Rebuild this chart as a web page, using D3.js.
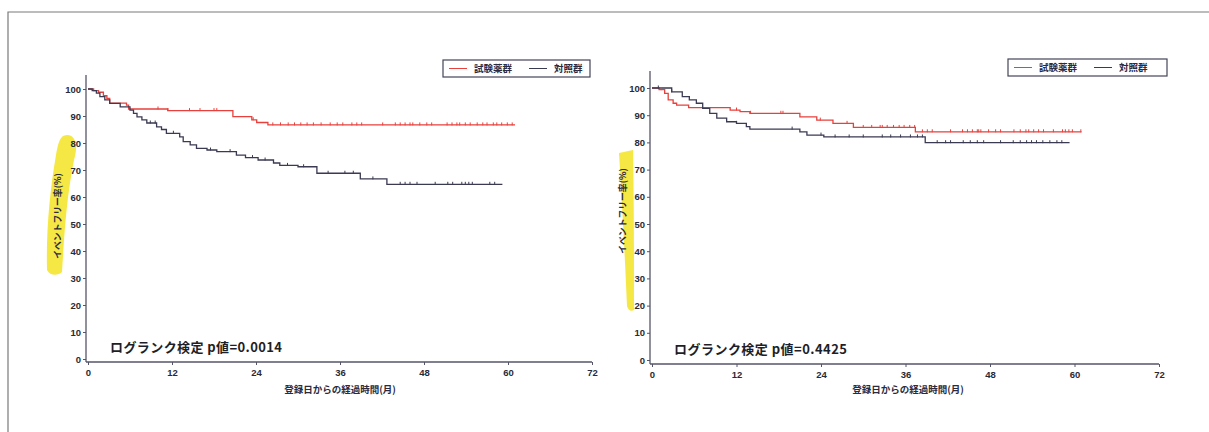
<!DOCTYPE html>
<html><head><meta charset="utf-8">
<script src="https://cdn.jsdelivr.net/npm/d3@7/dist/d3.min.js"></script>
<style>
html,body{margin:0;padding:0;background:#fff;}
svg{display:block;}
text{font-family:"Noto Sans CJK JP","Liberation Sans",sans-serif;}
</style></head>
<body>
<svg id="chart" width="1209" height="432"></svg>
<script>
// ---- data ----
const xTicks = [0, 12, 24, 36, 48, 60, 72];
const yTicks = [0, 10, 20, 30, 40, 50, 60, 70, 80, 90, 100];
const seriesNames = ["試験薬群", "対照群"];
const xTitle = "登録日からの経過時間(月)";
const yTitle = "イベントフリー率(%)";
const pValues = ["0.0014", "0.4425"];

// Left panel: [month, %] step change points (last = end of follow-up)
const leftDrug = [[0,100],[0.8,99.4],[1.5,98.8],[2.2,97.5],[2.7,96.5],[3.1,94.8],[5.5,94.0],[5.8,92.6],[11.4,92.0],[20.7,89.8],[23.4,88.6],[24.1,87.6],[25.7,86.7],[61,86.7]];
const leftCtrl = [[0,100],[0.6,99.4],[1.2,98.5],[1.7,97.2],[2.4,96.0],[3.1,94.7],[4.6,93.4],[6.0,92.2],[6.5,91.0],[7.0,89.7],[7.7,88.6],[8.4,87.4],[9.8,86.0],[10.5,85.0],[11.2,83.6],[13.1,82.3],[13.6,80.5],[14.6,79.3],[15.5,78.0],[17.0,77.4],[18.4,76.8],[21.2,75.5],[22.5,74.6],[24.3,73.7],[26.5,72.6],[27.4,71.7],[30.0,71.2],[32.7,68.8],[38.9,66.7],[42.7,64.7],[59.2,64.7]];
const leftDrugCensor = [10.0,11.4,14.5,16.0,18.0,18.4,23.6,26.4,27.5,28.6,29.5,30.4,31.3,32.2,33.3,34.6,35.6,36.4,37.7,38.4,39.1,42.1,43.9,44.6,45.3,46.0,46.4,47.4,48.4,49.1,51.3,52.0,52.7,53.1,53.9,54.6,55.6,56.4,57.0,57.9,58.4,59.1,59.9,60.6];
const leftCtrlCensor = [8.9,9.6,12.2,17.5,20.3,23.5,25.3,28.5,30.8,34.3,36.7,37.9,40.7,44.6,45.3,46.0,47.0,49.6,51.4,52.1,53.4,53.9,54.4,54.9,57.4,58.1];

// Right panel
const rightDrug = [[0,100],[1.0,99.4],[1.8,98.0],[2.3,95.6],[3.0,94.4],[3.5,93.7],[5.2,92.8],[11.1,91.9],[12.5,91.3],[13.9,90.7],[21.0,89.4],[23.4,88.2],[25.7,87.0],[28.6,85.5],[37.4,83.9],[61,83.9]];
const rightCtrl = [[0,100],[2.8,98.6],[4.3,96.8],[5.3,95.6],[6.3,94.4],[7.2,92.5],[8.2,90.7],[9.2,88.9],[10.6,87.6],[12.0,87.0],[13.4,85.8],[13.9,84.9],[21.0,83.9],[22.0,82.7],[24.4,82.0],[38.8,79.9],[59.3,79.9]];
const rightDrugCensor = [1.3,12.0,14.0,18.3,18.6,23.9,27.7,30.0,31.2,32.4,32.7,33.4,34.3,35.1,35.8,36.6,37.3,38.4,39.1,39.8,42.4,44.1,44.8,45.5,46.2,46.4,46.7,47.8,48.8,49.5,51.4,52.3,53.1,53.5,54.2,54.9,55.6,57.0,58.3,58.7,59.2,59.7,60.9];
const rightCtrlCensor = [0.9,2.8,12.0,19.9,24.0,26.0,28.0,30.0,32.7,33.9,35.3,36.7,37.7,38.4,40.5,41.7,42.4,44.2,45.2,46.2,47.1,49.5,51.3,52.3,53.2,53.9,54.6,55.5,56.5,57.5,58.2];

// ---- layout ----
const colors = ["#e8403c", "#3a3a52"];
const axisColor = "#55556a";
const panels = [
  { x0: 88, x1: 592, yTop: 89, yBot: 359, axX: 86, axY: 362, axTop: 75,
    series: [leftDrug, leftCtrl], censors: [leftDrugCensor, leftCtrlCensor], p: pValues[0],
    pText: [110, 352, 172], yLab: [59, 216], legend: [443, 60, 147, 17], xTitleX: 340,
    hl: "M63,136 C72,132 80,140 74,160 C66,200 64,240 62,272 C58,276 50,276 47,270 C46,230 50,190 56,155 C58,143 60,138 63,136 Z" },
  { x0: 652, x1: 1159, yTop: 88, yBot: 360, axX: 650, axY: 364, axTop: 71,
    series: [rightDrug, rightCtrl], censors: [rightDrugCensor, rightCtrlCensor], p: pValues[1],
    pText: [674, 354, 173], yLab: [624, 211], legend: [1008, 59, 159, 17], xTitleX: 908,
    hl: "M619,153 L633,150 C634,200 634,260 634,310 C631,312 628,310 627,306 C625,260 622,200 619,153 Z" }
];

const svg = d3.select("#chart");

// frame
svg.append("path").attr("d", "M8,432 L8,12 L1209,12")
  .attr("fill", "none").attr("stroke", "#7a7a7a").attr("stroke-width", 1.2);

function stepVal(series, t) {
  let v = series[0][1];
  for (const d of series) { if (d[0] <= t) v = d[1]; else break; }
  return v;
}

panels.forEach(P => {
  const x = d3.scaleLinear().domain([0, 72]).range([P.x0, P.x1]);
  const y = d3.scaleLinear().domain([0, 100]).range([P.yBot, P.yTop]);
  const g = svg.append("g");

  // highlighter
  g.append("path").attr("d", P.hl).attr("fill", "#f4e63a").attr("opacity", 0.95);

  // y axis
  const yAxis = d3.axisLeft(y).tickValues(yTicks).tickSize(3).tickPadding(2).tickSizeOuter(0);
  const ya = g.append("g").attr("transform", `translate(${P.axX},0)`).call(yAxis);
  ya.select(".domain").remove();
  g.append("line").attr("x1", P.axX).attr("x2", P.axX).attr("y1", P.axTop).attr("y2", P.axY)
    .attr("stroke", axisColor).attr("stroke-width", 1.3);
  // x axis
  const xAxis = d3.axisBottom(x).tickValues(xTicks).tickSize(3).tickPadding(4).tickSizeOuter(0);
  const xa = g.append("g").attr("transform", `translate(0,${P.axY})`).call(xAxis);
  xa.select(".domain").remove();
  g.append("line").attr("x1", P.axX).attr("x2", x(72)).attr("y1", P.axY).attr("y2", P.axY)
    .attr("stroke", axisColor).attr("stroke-width", 1.3);
  [ya, xa].forEach(a => {
    a.selectAll(".tick line").attr("stroke", axisColor).attr("stroke-width", 1);
    a.selectAll(".tick text").attr("fill", "#2a2a35").attr("font-size", 9.5).attr("font-weight", "bold")
      .style("font-family", "'Liberation Sans', Arial, sans-serif");
  });

  // y title
  g.append("text").attr("transform", `translate(${P.yLab[0]},${P.yLab[1]}) rotate(-90)`)
    .attr("text-anchor", "middle").attr("dominant-baseline", "middle")
    .attr("font-size", 8.8).attr("font-weight", "bold").attr("fill", "#2a2a40").text(yTitle);
  // x title
  g.append("text").attr("x", P.xTitleX).attr("y", 393).attr("text-anchor", "middle")
    .attr("font-size", 9.5).attr("font-weight", "bold").attr("fill", "#2a2a40").text(xTitle);

  // curves
  const line = d3.line().x(d => x(d[0])).y(d => y(d[1])).curve(d3.curveStepAfter);
  P.series.forEach((s, i) => {
    g.append("path").datum(s).attr("d", line).attr("fill", "none")
      .attr("stroke", colors[i]).attr("stroke-width", 1.3);
  });
  P.censors.forEach((c, i) => {
    g.selectAll(null).data(c).enter().append("line")
      .attr("x1", d => x(d)).attr("x2", d => x(d))
      .attr("y1", d => y(stepVal(P.series[i], d)) - 2.5)
      .attr("y2", d => y(stepVal(P.series[i], d)) + 0.5)
      .attr("stroke", colors[i]).attr("stroke-width", 1);
  });

  // log-rank text
  g.append("text").attr("x", P.pText[0]).attr("y", P.pText[1])
    .attr("font-size", 13).attr("font-weight", "bold").attr("fill", "#1e1e28")
    .attr("textLength", P.pText[2]).attr("lengthAdjust", "spacing")
    .text("ログランク検定 p値=" + P.p);

  // legend
  const [lx, ly, lw, lh] = P.legend;
  const lg = g.append("g");
  lg.append("rect").attr("x", lx).attr("y", ly).attr("width", lw).attr("height", lh)
    .attr("fill", "#fff").attr("stroke", "#45455a").attr("stroke-width", 1.2);
  const item = [[lx + 6, lx + 24], [lx + 86, lx + 104]];
  seriesNames.forEach((n, i) => {
    lg.append("line").attr("x1", item[i][0]).attr("x2", item[i][1])
      .attr("y1", ly + lh / 2).attr("y2", ly + lh / 2).attr("stroke", colors[i]).attr("stroke-width", 1);
    lg.append("text").attr("x", item[i][1] + 7).attr("y", ly + lh / 2 + 3.5)
      .attr("font-size", 9.5).attr("font-weight", "bold").attr("fill", "#2a2a40").text(n);
  });
});
</script>
</body></html>
